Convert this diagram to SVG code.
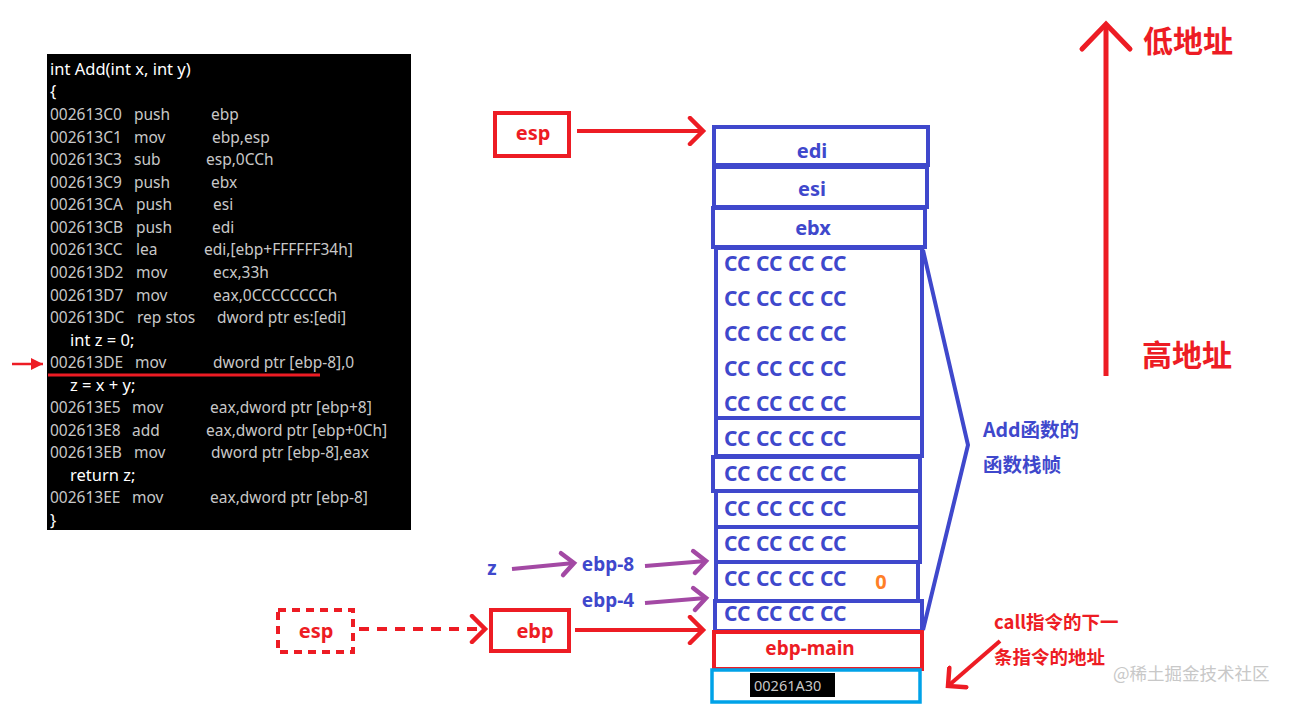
<svg xmlns="http://www.w3.org/2000/svg" width="1292" height="704" viewBox="0 0 1292 704">
<style>
.code{font-family:"Noto Sans","Liberation Sans",sans-serif;font-size:15.5px;fill:#c8c8c8}
.src{fill:#ffffff;font-size:16.5px}
.lbl{font-family:"Noto Sans","Noto Sans CJK SC",sans-serif;font-weight:bold}
.blue{fill:#3f48cc}
.red{fill:#ed1c24}
.cc{font-family:"Noto Sans",sans-serif;font-weight:bold;font-size:21px;fill:#3f48cc}
.bbox{fill:#fff;stroke:#3f48cc;stroke-width:4}
.rbox{fill:#fff;stroke:#ed1c24;stroke-width:4}
.cn{font-family:"Noto Sans CJK SC",sans-serif;font-weight:bold}
</style>
<defs>
<marker id="ar" markerUnits="userSpaceOnUse" markerWidth="30" markerHeight="30" viewBox="-20 -15 30 30" refX="0" refY="0" orient="auto"><path d="M-13,-13 L0,0 L-13,13" fill="none" stroke="#ed1c24" stroke-width="4.5" stroke-linecap="round"/></marker>
<marker id="ap" markerUnits="userSpaceOnUse" markerWidth="30" markerHeight="30" viewBox="-20 -15 30 30" refX="0" refY="0" orient="auto"><path d="M-12,-11 L0,0 L-12,11" fill="none" stroke="#a349a4" stroke-width="4.5" stroke-linecap="round"/></marker>
<marker id="abig" markerUnits="userSpaceOnUse" markerWidth="60" markerHeight="60" viewBox="-35 -30 60 60" refX="0" refY="0" orient="auto"><path d="M-25,-24 L0,0 L-25,24" fill="none" stroke="#ed1c24" stroke-width="5" stroke-linecap="round"/></marker>
<marker id="asm" markerUnits="userSpaceOnUse" markerWidth="20" markerHeight="20" viewBox="-15 -10 20 20" refX="0" refY="0" orient="auto"><path d="M-12,-6 L0,0 L-12,6 Z" fill="#ed1c24"/></marker>
</defs>
<rect width="1292" height="704" fill="#fff"/>

<g id="code">
<rect x="47" y="54" width="364" height="476" fill="#000"/>
<g class="code">
<text x="50" y="75" class="src">int Add(int x, int y)</text>
<text x="50" y="97" class="src">{</text>
<text x="50" y="120">002613C0</text><text x="134" y="120">push</text><text x="211" y="120">ebp</text>
<text x="50" y="143">002613C1</text><text x="134" y="143">mov</text><text x="212" y="143">ebp,esp</text>
<text x="50" y="165">002613C3</text><text x="134" y="165">sub</text><text x="206" y="165">esp,0CCh</text>
<text x="50" y="188">002613C9</text><text x="134" y="188">push</text><text x="211" y="188">ebx</text>
<text x="50" y="210">002613CA</text><text x="136" y="210">push</text><text x="213" y="210">esi</text>
<text x="50" y="233">002613CB</text><text x="136" y="233">push</text><text x="212" y="233">edi</text>
<text x="50" y="255">002613CC</text><text x="136" y="255">lea</text><text x="204" y="255">edi,[ebp+FFFFFF34h]</text>
<text x="50" y="278">002613D2</text><text x="136" y="278">mov</text><text x="213" y="278">ecx,33h</text>
<text x="50" y="301">002613D7</text><text x="136" y="301">mov</text><text x="213" y="301">eax,0CCCCCCCCh</text>
<text x="50" y="323">002613DC</text><text x="137" y="323">rep stos</text><text x="217" y="323">dword ptr es:[edi]</text>
<text x="70" y="346" class="src">int z = 0;</text>
<text x="50" y="368">002613DE</text><text x="135" y="368">mov</text><text x="213" y="368">dword ptr [ebp-8],0</text>
<text x="70" y="391" class="src">z = x + y;</text>
<text x="50" y="413">002613E5</text><text x="132" y="413">mov</text><text x="210" y="413">eax,dword ptr [ebp+8]</text>
<text x="50" y="436">002613E8</text><text x="132" y="436">add</text><text x="206" y="436">eax,dword ptr [ebp+0Ch]</text>
<text x="50" y="458">002613EB</text><text x="134" y="458">mov</text><text x="211" y="458">dword ptr [ebp-8],eax</text>
<text x="70" y="481" class="src">return z;</text>
<text x="50" y="503">002613EE</text><text x="132" y="503">mov</text><text x="210" y="503">eax,dword ptr [ebp-8]</text>
<text x="50" y="526" class="src">}</text>
</g>
<line x1="48" y1="375" x2="320" y2="375" stroke="#ed1c24" stroke-width="3"/>
</g>

<g id="stack">
<rect class="bbox" x="714" y="127" width="214" height="38"/>
<text class="lbl blue" x="812" y="158" font-size="20" text-anchor="middle">edi</text>
<rect class="bbox" x="714" y="167" width="213" height="40"/>
<text class="lbl blue" x="812" y="196" font-size="20" text-anchor="middle">esi</text>
<rect class="bbox" x="713" y="208" width="212" height="39"/>
<text class="lbl blue" x="813" y="235" font-size="20" text-anchor="middle">ebx</text>
<rect class="bbox" x="716" y="248" width="206" height="170"/>
<rect class="bbox" x="716" y="418" width="206" height="38"/>
<rect class="bbox" x="713" y="457" width="207" height="34"/>
<rect class="bbox" x="716" y="491" width="204" height="36"/>
<rect class="bbox" x="716" y="527" width="204" height="35"/>
<rect class="bbox" x="716" y="562" width="202" height="39"/>
<rect class="bbox" x="715" y="601" width="207" height="30"/>
<g class="cc">
<text x="724" y="271">CC CC CC CC</text>
<text x="724" y="306">CC CC CC CC</text>
<text x="724" y="341">CC CC CC CC</text>
<text x="724" y="376">CC CC CC CC</text>
<text x="724" y="411">CC CC CC CC</text>
<text x="724" y="446">CC CC CC CC</text>
<text x="724" y="481">CC CC CC CC</text>
<text x="724" y="516">CC CC CC CC</text>
<text x="724" y="551">CC CC CC CC</text>
<text x="724" y="586">CC CC CC CC</text>
<text x="724" y="621">CC CC CC CC</text>
</g>
<text class="lbl" x="881" y="589" font-size="20" fill="#ff7f27" text-anchor="middle">0</text>
</g>

<g id="ebp-main">
<rect class="rbox" x="714" y="632" width="208" height="37"/>
<text class="lbl red" x="810" y="655" font-size="19" text-anchor="middle">ebp-main</text>
</g>
<g id="ret-addr">
<rect x="712" y="670" width="208" height="32" fill="#fff" stroke="#00a2e8" stroke-width="3.5"/>
<rect x="750" y="673" width="85" height="24" fill="#000"/>
<text x="754" y="691" font-family="Noto Sans,sans-serif" font-size="14.5" fill="#c8c8c8">00261A30</text>
</g>

<g id="frame-brace">
<polyline points="923,250 968,445 923,630" fill="none" stroke="#3f48cc" stroke-width="4"/>
<text class="cn blue" x="983" y="437" font-size="19.5">Add函数的</text>
<text class="cn blue" x="983" y="472" font-size="19.5">函数栈帧</text>
</g>

<g id="esp-top">
<rect class="rbox" x="495" y="113" width="74" height="43"/>
<text class="lbl red" x="533" y="140" font-size="20" text-anchor="middle">esp</text>
</g>
<g id="esp-old">
<rect x="278" y="610" width="75" height="42" fill="#fff" stroke="#ed1c24" stroke-width="4" stroke-dasharray="8,6"/>
<text class="lbl red" x="316" y="638" font-size="20" text-anchor="middle">esp</text>
</g>
<g id="ebp">
<rect class="rbox" x="491" y="610" width="78" height="41"/>
<text class="lbl red" x="535" y="638" font-size="20" text-anchor="middle">ebp</text>
</g>
<g id="z">
<text class="lbl blue" x="492" y="575" font-size="19" text-anchor="middle">z</text>
</g>
<g id="ebp-8"><text class="lbl blue" x="608" y="571" font-size="19" text-anchor="middle">ebp-8</text></g>
<g id="ebp-4"><text class="lbl blue" x="608" y="607" font-size="19" text-anchor="middle">ebp-4</text></g>

<g id="addr-axis">
<text class="cn red" x="1143" y="52" font-size="30">低地址</text>
<text class="cn red" x="1142" y="366" font-size="30">高地址</text>
</g>
<g id="call-note">
<text class="cn red" x="994" y="629" font-size="18.5">call指令的下一</text>
<text class="cn red" x="994" y="664" font-size="18.5">条指令的地址</text>
</g>
<text x="1113" y="680" font-family="Noto Sans CJK SC,sans-serif" font-size="17.5" fill="#c8c8c8">@稀土掘金技术社区</text>

<g id="connectors" fill="none">
<line x1="577" y1="131" x2="703" y2="131" stroke="#ed1c24" stroke-width="4" marker-end="url(#ar)"/>
<line x1="359" y1="629" x2="485" y2="629" stroke="#ed1c24" stroke-width="4" stroke-dasharray="10,8" marker-end="url(#ar)"/>
<line x1="575" y1="630" x2="703" y2="630" stroke="#ed1c24" stroke-width="4" marker-end="url(#ar)"/>
<line x1="512" y1="569" x2="574" y2="563" stroke="#a349a4" stroke-width="4" marker-end="url(#ap)"/>
<line x1="645" y1="566" x2="706" y2="561" stroke="#a349a4" stroke-width="4" marker-end="url(#ap)"/>
<line x1="645" y1="603" x2="706" y2="598" stroke="#a349a4" stroke-width="4" marker-end="url(#ap)"/>
<line x1="1106" y1="376" x2="1106" y2="24" stroke="#ed1c24" stroke-width="5" marker-end="url(#abig)"/>
<line x1="1000" y1="641" x2="948" y2="686" stroke="#ed1c24" stroke-width="4" marker-end="url(#ar)"/>
<line x1="12" y1="364" x2="43" y2="364" stroke="#ed1c24" stroke-width="2.5" marker-end="url(#asm)"/>
</g>
</svg>
